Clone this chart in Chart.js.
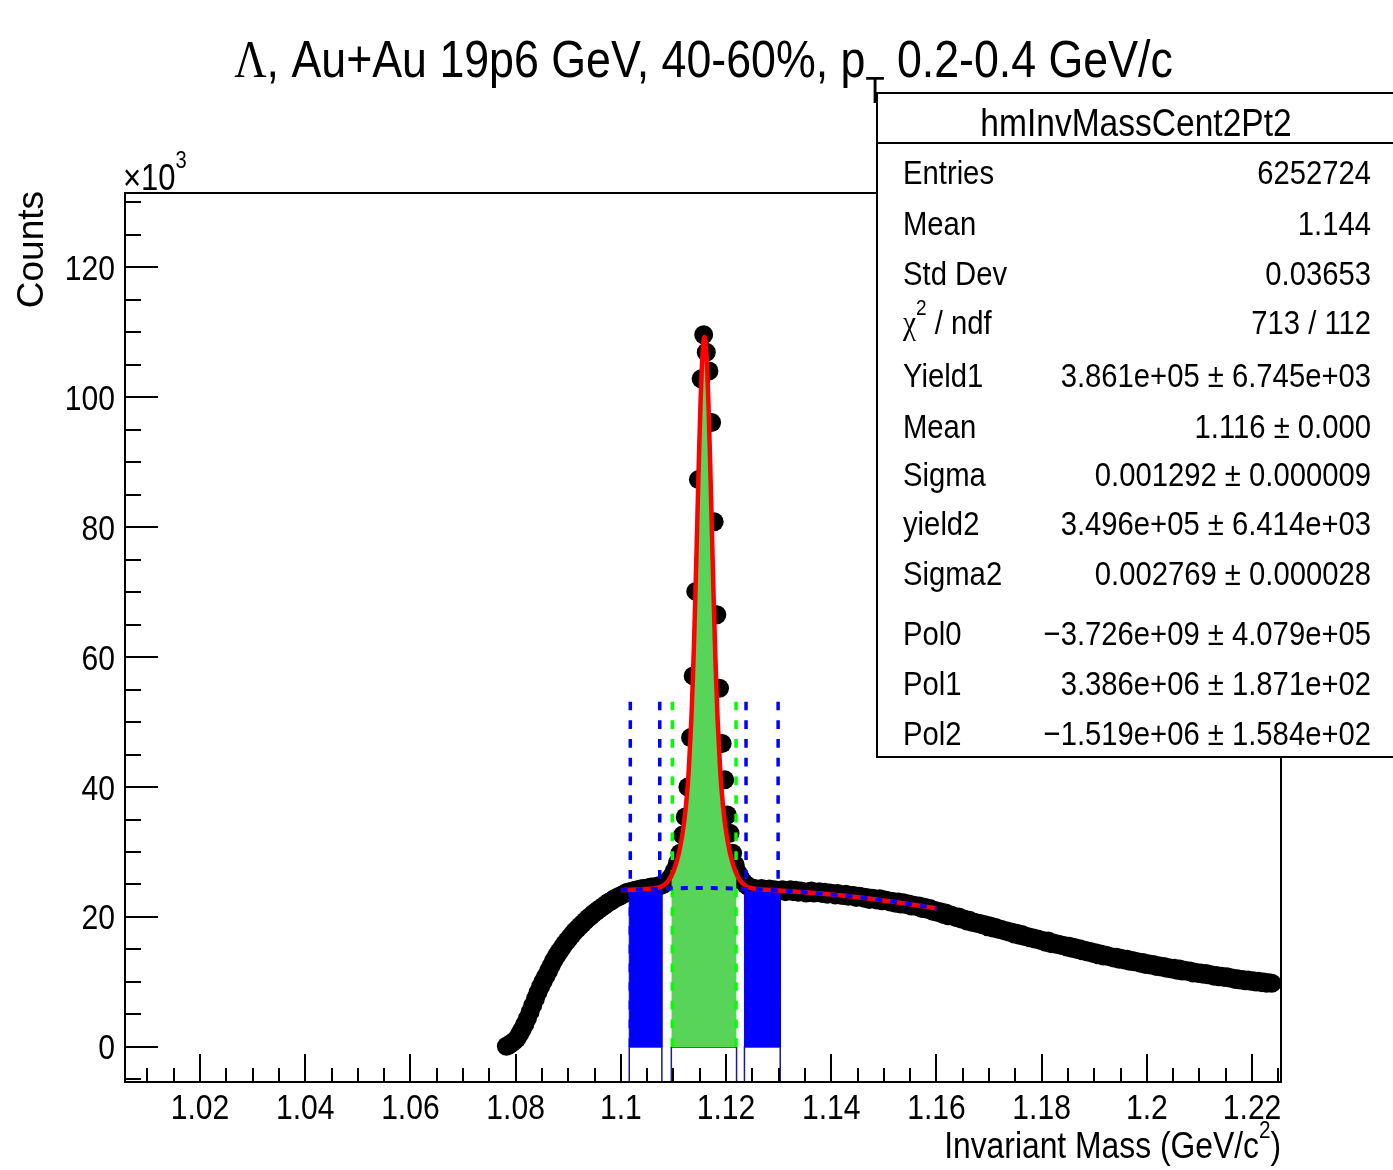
<!DOCTYPE html>
<html><head><meta charset="utf-8">
<script src="https://cdn.jsdelivr.net/npm/chart.js@4.4.1/dist/chart.umd.min.js"></script>
<style>html,body{margin:0;padding:0;background:#fff;}#wrap{width:1393px;height:1170px;}</style>
</head><body><div id="wrap"><canvas id="c" width="1393" height="1170"></canvas></div>
<script>
// ---------------- data (counts in units of 10^3) ----------------
const binStart = 1.07825;   // centre of first filled bin (GeV/c^2)
const binWidth = 0.0005;
const countsRise = [0.1,0.3,0.6,0.9,1.3,2.0,2.7,3.5,4.4,5.4,
  6.4,7.4,8.4,9.3,10.1,10.9,11.7,12.5,13.3,14.0,
  14.6,15.2,15.8,16.3,16.8,17.3,17.8,18.2,18.6,19.0,
  19.4,19.8,20.1,20.5,20.8,21.1,21.4,21.7,22.0,22.3,
  22.5,22.8,23.0,23.2,23.4,23.6,23.8,23.9,24.0,24.1,
  24.2,24.3,24.4,24.4,24.5,24.6,24.6,24.7,24.8,24.9];
const countsPeak = [25.1,25.4,25.8,26.4,27.2,28.3,29.8,32.6,35.4,40.0,
  47.6,57.1,70.1,87.3,102.8,109.6,106.9,104.0,96.1,80.8,
  66.5,55.2,46.7,41.1,35.7,32.9,29.8,28.0,26.8,26.0,
  25.4,25.0,24.7,24.5,24.4];
const countsTail = [24.3,24.1,24.4,24.2,24.0,24.3,24.1,24.2,23.9,24.1,
  24.2,23.9,24.0,24.2,23.9,24.1,23.8,24.0,23.9,23.7,
  23.9,24.0,23.7,23.8,23.9,23.6,23.8,23.5,23.7,23.6,
  23.4,23.6,23.4,23.3,23.5,23.2,23.3,23.3,23.0,23.2,
  23.1,22.9,23.0,22.7,22.9,22.8,22.6,22.8,22.5,22.6,
  22.5,22.3,22.4,22.1,22.3,22.0,22.2,21.9,22.0,21.7,
  21.8,21.6,21.7,21.3,21.5,21.2,21.3,20.9,21.0,20.7,
  20.8,20.4,20.6,20.2,20.3,20.1,19.9,20.0,19.7,19.7,
  19.4,19.5,19.2,19.2,19.0,19.0,18.8,18.8,18.5,18.6,
  18.3,18.4,18.1,18.1,17.9,17.9,17.7,17.7,17.4,17.5,
  17.2,17.3,17.0,17.0,16.8,16.8,16.6,16.6,16.4,16.4,
  16.1,16.3,15.9,16.0,15.8,15.8,15.6,15.6,15.4,15.5,
  15.2,15.3,15.0,15.1,14.8,14.9,14.6,14.7,14.4,14.5,
  14.2,14.3,14.0,14.1,13.9,13.9,13.7,13.8,13.5,13.6,
  13.4,13.5,13.2,13.3,13.1,13.1,12.9,13.0,12.7,12.8,
  12.6,12.7,12.4,12.5,12.3,12.4,12.1,12.2,12.0,12.1,
  11.8,12.0,11.7,11.8,11.6,11.7,11.4,11.5,11.3,11.4,
  11.2,11.3,11.1,11.1,10.9,11.0,10.8,10.9,10.7,10.8,
  10.6,10.6,10.4,10.5,10.3,10.4,10.2,10.3,10.1,10.2,
  10.0,10.1,9.9,10.0,9.8,9.9,9.8];

// total fit (red) and background fit (blue dashed)
const fitMass = [1.1000,1.1020,1.1040,1.1060,1.1070,1.1080,1.1090,1.1100,1.1109,1.1114,
  1.1119,1.1124,1.1129,1.1134,1.11365,1.1139,1.11415,1.1144,1.11465,1.1149,
  1.11515,1.1154,1.11565,1.1159,1.11615,1.1164,1.11665,1.1169,1.11715,1.1174,
  1.11765,1.1179,1.11815,1.1184,1.1189,1.1194,1.1199,1.1204,1.1209,1.1218,
  1.1228,1.1238,1.1248,1.1258,1.1280,1.1300,1.1350,1.1400,1.1450,1.1500,1.1550,1.1600];
const fitCounts = [24.13,24.21,24.28,24.38,24.50,24.81,25.53,27.02,29.40,31.30,
  33.81,37.29,42.45,50.35,55.64,61.85,68.91,76.55,84.53,92.25,
  99.10,104.55,108.05,109.25,108.05,104.55,99.10,92.25,84.52,76.54,
  68.90,61.84,55.62,50.33,42.42,37.27,33.78,31.27,29.36,26.97,
  25.48,24.75,24.43,24.30,24.18,24.09,23.82,23.47,23.05,22.55,21.97,21.32];
const bgMass = [1.100,1.105,1.110,1.115,1.120,1.125,1.130,1.135,1.140,1.145,1.150,1.155,1.160];
const bgCounts = [24.13,24.31,24.42,24.45,24.41,24.29,24.09,23.82,23.47,23.05,22.55,21.97,21.32];

// regions
const sidebandLo = [1.1016, 1.1235];
const sidebandHi = [1.1078, 1.1303];
const sidebandTop = [24.0, 24.0];
const signalRange = [1.1096, 1.1220];
const signalEdgeCounts = [26.3, 26.6];
const blueLines = [1.1018, 1.1074, 1.1238, 1.1299];
const greenLines = [1.1098, 1.1219];
const markLineTop = 53.4;

// axes
const xRange = [1.00574, 1.2255];
const yRange = [-5.39, 131.4];
const xTickValues = [1.02,1.04,1.06,1.08,1.10,1.12,1.14,1.16,1.18,1.20,1.22];
const xTickLabels = ['1.02','1.04','1.06','1.08','1.1','1.12','1.14','1.16','1.18','1.2','1.22'];
const xMinorStep = 0.005;
const yTickValues = [0,20,40,60,80,100,120];
const yTickLabels = ['0','20','40','60','80','100','120'];
const yMinorStep = 5;

// stats box
const statsTitle = 'hmInvMassCent2Pt2';
const statsLabels = ['Entries','Mean','Std Dev','CHI','Yield1','Mean','Sigma','yield2','Sigma2','Pol0','Pol1','Pol2'];
const statsValues = ['6252724','1.144','0.03653','713 / 112','3.861e+05 \u00b1 6.745e+03','1.116 \u00b1 0.000',
  '0.001292 \u00b1 0.000009','3.496e+05 \u00b1 6.414e+03','0.002769 \u00b1 0.000028',
  '\u22123.726e+09 \u00b1 4.079e+05','3.386e+06 \u00b1 1.871e+02','\u22121.519e+06 \u00b1 1.584e+02'];

// ---------------- build datasets ----------------
const counts = countsRise.concat(countsPeak, countsTail);
const histPoints = counts.map((c, i) => ({x: +(binStart + i * binWidth).toFixed(5), y: c}));
const fitPoints = fitMass.map((m, i) => ({x: m, y: fitCounts[i]}));
const bgPoints = bgMass.map((m, i) => ({x: m, y: bgCounts[i]}));
const signalPoints = [{x: signalRange[0], y: signalEdgeCounts[0]}]
  .concat(fitPoints.filter(p => p.x > signalRange[0] && p.x < signalRange[1]))
  .concat([{x: signalRange[1], y: signalEdgeCounts[1]}]);

const BLUE = '#0000ff', GREEN = '#00ff00', NAVY = '#1c1c8a';
const datasets = [];
datasets.push({label: 'data', data: histPoints, showLine: false, pointRadius: 9.5,
  pointBackgroundColor: '#000', pointBorderWidth: 0, pointHoverRadius: 9.5, order: 10});
sidebandLo.forEach((lo, i) => {
  const hi = sidebandHi[i];
  datasets.push({label: 'sb' + i, data: [{x: lo, y: 0}, {x: lo, y: sidebandTop[i]}, {x: hi, y: sidebandTop[i]}, {x: hi, y: 0}],
    showLine: true, fill: 'origin', backgroundColor: BLUE, borderColor: '#0000d0', borderWidth: 1, pointRadius: 0, order: 8});
  datasets.push({label: 'sbBox' + i, data: [{x: lo, y: yRange[0]}, {x: lo, y: 0}, {x: hi, y: 0}, {x: hi, y: yRange[0]}],
    showLine: true, fill: false, borderColor: NAVY, borderWidth: 1.5, pointRadius: 0, order: 8});
});
datasets.push({label: 'signal', data: signalPoints, showLine: true, fill: 'origin', backgroundColor: '#58d458',
  borderColor: 'rgba(0,0,0,0)', borderWidth: 0, pointRadius: 0, cubicInterpolationMode: 'monotone', order: 8});
datasets.push({label: 'sigBox', data: [{x: signalRange[0], y: yRange[0]}, {x: signalRange[0], y: 0}, {x: signalRange[1], y: 0}, {x: signalRange[1], y: yRange[0]}],
  showLine: true, fill: false, borderColor: NAVY, borderWidth: 1.5, pointRadius: 0, order: 8});
blueLines.forEach((m, i) => datasets.push({label: 'bl' + i, data: [{x: m, y: 0}, {x: m, y: markLineTop}], showLine: true,
  borderColor: BLUE, borderWidth: 3.5, borderDash: [8.7, 10], pointRadius: 0, order: 6}));
greenLines.forEach((m, i) => datasets.push({label: 'gl' + i, data: [{x: m, y: 0}, {x: m, y: markLineTop}], showLine: true,
  borderColor: GREEN, borderWidth: 3.5, borderDash: [8.7, 10], pointRadius: 0, order: 6}));
datasets.push({label: 'fit', data: fitPoints, showLine: true, borderColor: '#ff0000', borderWidth: 4.5,
  pointRadius: 0, cubicInterpolationMode: 'monotone', order: 4});
datasets.push({label: 'bg', data: bgPoints, showLine: true, borderColor: BLUE, borderWidth: 4, borderDash: [7, 8],
  pointRadius: 0, cubicInterpolationMode: 'monotone', order: 3});

// ---------------- text helpers ----------------
const SANS = '"Liberation Sans", Arial, Helvetica, sans-serif';
const SERIF = '"Liberation Serif", "Times New Roman", serif';
const SX = 0.86;
function drawText(ctx, segs, x, y, size, align, opts) {
  opts = opts || {};
  if (typeof segs === 'string') segs = [{t: segs}];
  const sx = opts.sx !== undefined ? opts.sx : SX;
  let w = 0;
  const m = segs.map(s => {
    const sz = size * (s.s || 1);
    const font = sz + 'px ' + (s.serif ? SERIF : SANS);
    ctx.font = font;
    const ww = ctx.measureText(s.t).width;
    w += ww;
    return {t: s.t, font: font, ww: ww, dy: (s.dy || 0) * size};
  });
  ctx.save();
  ctx.translate(x, y);
  if (opts.rot) ctx.rotate(opts.rot);
  ctx.scale(sx, 1);
  let cx = align === 'center' ? -w / 2 : align === 'right' ? -w : 0;
  ctx.textAlign = 'left'; ctx.textBaseline = 'alphabetic'; ctx.fillStyle = '#000';
  for (const s of m) { ctx.font = s.font; ctx.fillText(s.t, cx, s.dy); cx += s.ww; }
  ctx.restore();
}

// ---------------- frame, axes, title and stats plugin ----------------
const rootFrame = {
  id: 'rootFrame',
  afterDatasetsDraw(chart) {
    const ctx = chart.ctx, a = chart.chartArea, xs = chart.scales.x, ys = chart.scales.y;
    ctx.save();
    ctx.strokeStyle = '#000'; ctx.lineWidth = 2;
    ctx.strokeRect(a.left, a.top, a.right - a.left, a.bottom - a.top);
    ctx.beginPath();
    const nx0 = Math.ceil(xRange[0] / xMinorStep - 1e-6), nx1 = Math.floor(xRange[1] / xMinorStep + 1e-6);
    for (let n = nx0; n <= nx1; n++) {
      const v = n * xMinorStep;
      const major = xTickValues.some(t => Math.abs(t - v) < 1e-6);
      const px = Math.round(xs.getPixelForValue(v));
      ctx.moveTo(px, a.bottom); ctx.lineTo(px, a.bottom - (major ? 28 : 14));
    }
    const ny0 = Math.ceil(yRange[0] / yMinorStep - 1e-6), ny1 = Math.floor(yRange[1] / yMinorStep + 1e-6);
    for (let n = ny0; n <= ny1; n++) {
      const v = n * yMinorStep;
      const major = yTickValues.indexOf(v) >= 0;
      const py = Math.round(ys.getPixelForValue(v));
      ctx.moveTo(a.left, py); ctx.lineTo(a.left + (major ? 33 : 16), py);
    }
    ctx.stroke();
    ctx.restore();
    xTickValues.forEach((v, i) => drawText(ctx, xTickLabels[i], xs.getPixelForValue(v), a.bottom + 37, 35, 'center'));
    yTickValues.forEach((v, i) => drawText(ctx, yTickLabels[i], a.left - 10, ys.getPixelForValue(v) + 12.5, 35, 'right'));
    drawText(ctx, [{t: '\u00d710'}, {t: '3', s: 0.65, dy: -0.6}], a.left - 2, a.top - 3, 36, 'left');
    drawText(ctx, [{t: 'Invariant Mass (GeV/c'}, {t: '2', s: 0.65, dy: -0.55}, {t: ')'}], a.right, 1158, 37, 'right');
    drawText(ctx, 'Counts', 43, 191, 37, 'right', {rot: -Math.PI / 2, sx: 1});
  },
  afterDraw(chart) {
    const ctx = chart.ctx;
    drawText(ctx, [{t: '\u039b', serif: true}, {t: ', Au+Au 19p6 GeV, 40-60%, p'}, {t: 'T', s: 0.7, dy: 0.5}, {t: ' 0.2-0.4 GeV/c'}],
      703.5, 77, 52, 'center');
    // stats box
    const bx = 877, by = 93, bw = 530, bh = 664;
    ctx.save();
    ctx.fillStyle = '#fff'; ctx.fillRect(bx, by, bw, bh);
    ctx.strokeStyle = '#000'; ctx.lineWidth = 2; ctx.strokeRect(bx, by, bw, bh);
    ctx.beginPath(); ctx.moveTo(bx, 143); ctx.lineTo(bx + bw, 143); ctx.stroke();
    ctx.restore();
    drawText(ctx, statsTitle, 1136, 136, 39, 'center');
    const base = [184, 235, 285, 334, 387, 438, 486, 535, 585, 645, 695, 745];
    statsLabels.forEach((l, i) => {
      const segs = l === 'CHI' ? [{t: '\u03c7', serif: true}, {t: '2', s: 0.65, dy: -0.55}, {t: ' / ndf'}] : l;
      drawText(ctx, segs, 903, base[i], 34, 'left');
      drawText(ctx, statsValues[i], 1371, base[i], 34, 'right');
    });
  }
};

new Chart(document.getElementById('c'), {
  type: 'scatter',
  data: {datasets: datasets},
  options: {
    responsive: false, animation: false, devicePixelRatio: 1,
    layout: {padding: {left: 125, top: 193, right: 112, bottom: 88}},
    scales: {
      x: {type: 'linear', min: xRange[0], max: xRange[1], display: false},
      y: {type: 'linear', min: yRange[0], max: yRange[1], display: false}
    },
    plugins: {legend: {display: false}, tooltip: {enabled: false}}
  },
  plugins: [rootFrame]
});
</script></body></html>
